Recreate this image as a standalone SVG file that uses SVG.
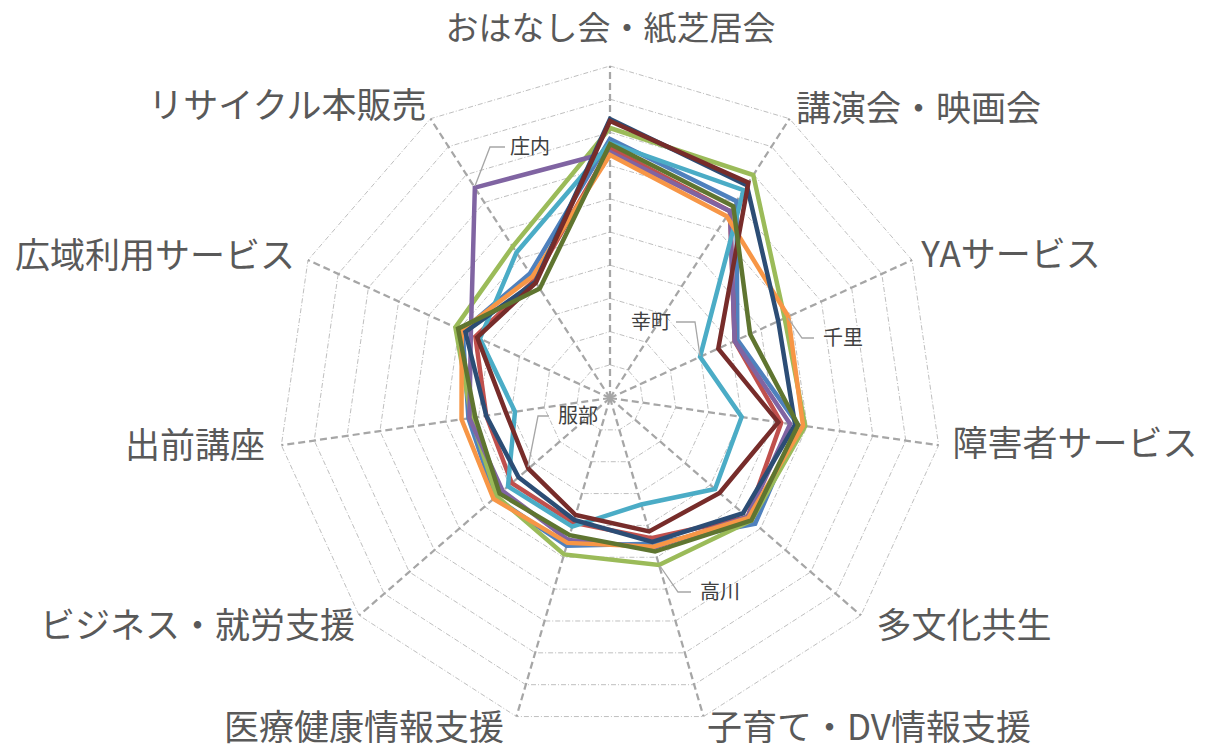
<svg xmlns="http://www.w3.org/2000/svg" width="1214" height="749" viewBox="0 0 1214 749">
<style>
.ring{fill:none;stroke:#BFBFBF;stroke-width:1;stroke-dasharray:5 2 1 2}
.axis{fill:none;stroke:#A6A6A6;stroke-width:2.25;stroke-dasharray:7 4}
.s{fill:none;stroke-width:4.5;stroke-linejoin:miter;stroke-miterlimit:10}
.lead{fill:none;stroke:#A6A6A6;stroke-width:1.3}
.cat{font-family:"Noto Sans CJK JP","Noto Sans",sans-serif;font-size:35px;fill:#595959;text-anchor:middle}
.dl{font-family:"Noto Sans CJK JP","Noto Sans",sans-serif;font-size:20px;fill:#404040}
</style>
<rect width="1214" height="749" fill="#FFFFFF"/>
<g id="grid">
<polygon class="ring" points="610,364.8 627.95,370.07 640.2,384.21 642.86,402.72 635.09,419.74 619.35,429.86 600.65,429.86 584.91,419.74 577.14,402.72 579.8,384.21 592.05,370.07"/>
<polygon class="ring" points="610,331.6 645.9,342.14 670.4,370.42 675.72,407.45 660.18,441.48 628.71,461.71 591.29,461.71 559.82,441.48 544.28,407.45 549.6,370.42 574.1,342.14"/>
<polygon class="ring" points="610,298.4 663.85,314.21 700.6,356.62 708.59,412.17 685.27,463.22 638.06,493.57 581.94,493.57 534.73,463.22 511.41,412.17 519.4,356.62 556.15,314.21"/>
<polygon class="ring" points="610,265.2 681.8,286.28 730.8,342.83 741.45,416.9 710.36,484.97 647.41,525.42 572.59,525.42 509.64,484.97 478.55,416.9 489.2,342.83 538.2,286.28"/>
<polygon class="ring" points="610,232 699.75,258.35 761,329.04 774.31,421.62 735.45,506.71 656.77,557.28 563.23,557.28 484.55,506.71 445.69,421.62 459,329.04 520.25,258.35"/>
<polygon class="ring" points="610,198.8 717.7,230.42 791.2,315.25 807.17,426.35 760.55,528.45 666.12,589.13 553.88,589.13 459.45,528.45 412.83,426.35 428.8,315.25 502.3,230.42"/>
<polygon class="ring" points="610,165.6 735.64,202.49 821.4,301.46 840.03,431.07 785.64,550.19 675.47,620.99 544.53,620.99 434.36,550.19 379.97,431.07 398.6,301.46 484.36,202.49"/>
<polygon class="ring" points="610,132.4 753.59,174.56 851.6,287.66 872.9,435.8 810.73,571.93 684.83,652.84 535.17,652.84 409.27,571.93 347.1,435.8 368.4,287.66 466.41,174.56"/>
<polygon class="ring" points="610,99.2 771.54,146.63 881.8,273.87 905.76,440.52 835.82,593.67 694.18,684.7 525.82,684.7 384.18,593.67 314.24,440.52 338.2,273.87 448.46,146.63"/>
<polygon class="ring" points="610,66 789.49,118.7 912,260.08 938.62,445.25 860.91,615.41 703.53,716.55 516.47,716.55 359.09,615.41 281.38,445.25 308,260.08 430.51,118.7"/>
</g>
<g id="axes">
<line class="axis" x1="610" y1="398" x2="610" y2="66"/>
<line class="axis" x1="610" y1="398" x2="789.49" y2="118.7"/>
<line class="axis" x1="610" y1="398" x2="912" y2="260.08"/>
<line class="axis" x1="610" y1="398" x2="938.62" y2="445.25"/>
<line class="axis" x1="610" y1="398" x2="860.91" y2="615.41"/>
<line class="axis" x1="610" y1="398" x2="703.53" y2="716.55"/>
<line class="axis" x1="610" y1="398" x2="516.47" y2="716.55"/>
<line class="axis" x1="610" y1="398" x2="359.09" y2="615.41"/>
<line class="axis" x1="610" y1="398" x2="281.38" y2="445.25"/>
<line class="axis" x1="610" y1="398" x2="308" y2="260.08"/>
<line class="axis" x1="610" y1="398" x2="430.51" y2="118.7"/>
</g>
<g id="series">
<polygon id="s1" class="s" stroke="#4F81BD" points="610,139 736.51,201.15 737.35,339.84 798.07,425.04 755.1,523.73 652.82,543.84 566.61,545.76 495.13,497.54 468.46,418.35 462.64,330.7 529.99,273.49"/>
<polygon id="s2" class="s" stroke="#C0504D" points="610,148 730.02,211.24 734.62,341.09 781.24,422.62 747.55,517.18 651.13,538.09 573.38,522.73 511.75,483.13 486.27,415.79 475.37,336.52 534.31,280.22"/>
<polygon id="s3" class="s" stroke="#9BBB59" points="610,128 753.27,175.07 784.65,318.24 805.19,426.03 751.33,520.46 659.02,564.95 564.08,554.4 496.64,496.23 471.43,417.92 455.36,327.38 512.68,246.57"/>
<polygon id="s4" class="s" stroke="#8064A2" points="610,152 730.02,211.24 734.62,341.09 790.15,423.9 747.55,517.18 653.95,547.68 568.3,540 502.68,490.99 469.45,418.21 470.83,334.44 474.84,187.69"/>
<polygon id="s5" class="s" stroke="#4BACC6" points="610,143 743.54,190.21 700.05,356.87 741.65,416.93 715.05,489.03 641.27,504.5 572.25,526.57 507.97,486.41 514.98,411.66 479.92,338.59 516.47,252.46"/>
<polygon id="s6" class="s" stroke="#F79646" points="610,155 726.78,216.29 788.29,316.58 803.01,425.75 748.3,517.84 653.67,546.72 567.46,542.88 493.61,498.85 461.53,419.35 461.73,330.29 532.15,276.86"/>
<polygon id="s7" class="s" stroke="#2C4D75" points="610,119 746.78,185.16 778.28,321.15 795.1,424.61 743.01,513.26 652.26,541.92 574.22,519.86 518.55,477.24 486.27,415.79 465.37,331.95 535.4,281.9"/>
<polygon id="s8" class="s" stroke="#772C2A" points="610,121 748.4,182.64 718.25,348.57 778.27,422.19 719.58,492.95 649.16,531.37 575.63,515.06 528.38,468.72 506.07,412.94 477.19,337.35 535.93,282.75"/>
<polygon id="s9" class="s" stroke="#5F7530" points="610,144 733.27,206.19 750.08,334.03 798.07,425.04 751.33,520.46 655.08,551.52 569.71,535.21 499.66,493.61 475.38,417.35 458.09,328.62 539.72,288.64"/>
</g>
<g id="leaders">
<polyline class="lead" points="475,186 490,147 505,147"/>
<polyline class="lead" points="788,318 802,338 814,338"/>
<polyline class="lead" points="700,356 695,322 676,322"/>
<polyline class="lead" points="528,467 538,416 549,416"/>
<polyline class="lead" points="660,566 678,592 691,592"/>
</g>
<g id="data-labels">
<text class="dl" x="510" y="154">庄内</text>
<text class="dl" x="823" y="345">千里</text>
<text class="dl" x="671" y="329" text-anchor="end">幸町</text>
<text class="dl" x="558" y="423">服部</text>
<text class="dl" x="700" y="599">高川</text>
</g>
<g id="category-labels">
<text class="cat" x="610.5" y="40" style="font-size:33px">おはなし会・紙芝居会</text>
<text class="cat" x="918.5" y="121">講演会・映画会</text>
<text class="cat" x="1011" y="267">YAサービス</text>
<text class="cat" x="1075" y="456">障害者サービス</text>
<text class="cat" x="964" y="638">多文化共生</text>
<text class="cat" x="869" y="740">子育て・DV情報支援</text>
<text class="cat" x="364" y="740">医療健康情報支援</text>
<text class="cat" x="197.5" y="638">ビジネス・就労支援</text>
<text class="cat" x="195" y="458">出前講座</text>
<text class="cat" x="155" y="268">広域利用サービス</text>
<text class="cat" x="287.5" y="118">リサイクル本販売</text>
</g>
</svg>
